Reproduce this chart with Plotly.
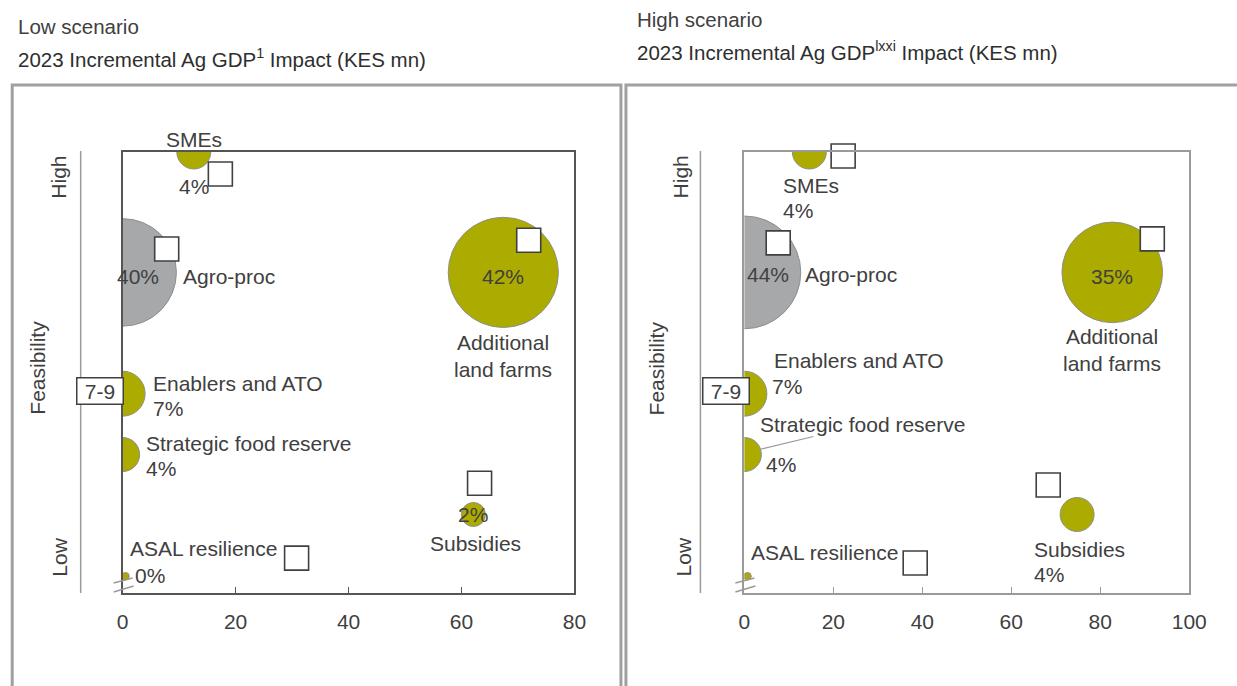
import plotly.graph_objects as go
import math

# ---- data -------------------------------------------------------------
initiatives = ["SMEs", "Agro-proc", "Additional land farms", "Enablers and ATO",
               "Strategic food reserve", "ASAL resilience", "Subsidies"]
feasibility = [10.0, 7.27, 7.27, 4.52, 3.14, 0.38, 1.78]

low_gdp = [12.6, 0.0, 67.4, 0.0, 0.0, 0.5, 62.1]
low_share = [4, 40, 42, 7, 4, 0, 2]
high_gdp = [14.6, 0.0, 82.7, 0.0, 0.0, 0.7, 74.8]
high_share = [4, 44, 35, 7, 4, 0, 4]

# open reference boxes next to each bubble
low_box_gdp = [17.3, 7.8, 71.9, None, -1.6, 30.8, 63.2]
low_box_feas = [9.5, 7.8, 8.0, None, 2.74, 0.79, 2.49]
high_box_gdp = [22.2, 7.6, 91.7, None, -1.8, 38.4, 68.3]
high_box_feas = [9.91, 7.94, 8.03, None, 2.72, 0.68, 2.45]

low_ticks = [0, 20, 40, 60, 80]
high_ticks = [0, 20, 40, 60, 80, 100]
axis_band_label = "7-9"

# ---- styling ----------------------------------------------------------
W, H = 1237, 686
FONT = "Liberation Sans, Arial, sans-serif"
FS = 21
FS_TITLE = 20.5
TXT = "#404040"
TXT_DARK = "#2E2E2E"
OLIVE = "#ABAB00"
GREY_BUBBLE = "#A7A8AA"
FRAME = "#A0A0A0"
colors = [OLIVE, GREY_BUBBLE, OLIVE, OLIVE, OLIVE, OLIVE, OLIVE]

# horizontal page calibration (layout pixel -> displayed pixel)
HX_SCALE, HX_OFF = 0.981, 5.3


def px(x):
    return ((x - HX_OFF) / HX_SCALE) / W


def py(y):
    return 1 - y / H


def bubble_size(share):
    return max(7.5, 17 * math.sqrt(share))


x1_dom = [px(122), px(574)]
x2_dom = [px(744), px(1189)]
y_dom = [py(593), py(152)]

fig = go.Figure()

panels = [
    dict(xa="x", ya="y", gdp=low_gdp, share=low_share, bx=low_box_gdp, by=low_box_feas),
    dict(xa="x2", ya="y2", gdp=high_gdp, share=high_share, bx=high_box_gdp, by=high_box_feas),
]
for p in panels:
    fig.add_trace(go.Scatter(
        x=p["gdp"], y=feasibility, xaxis=p["xa"], yaxis=p["ya"], mode="markers",
        marker=dict(size=[bubble_size(s) for s in p["share"]], color=colors,
                    opacity=1, line=dict(color="#8E8E8E", width=1)),
        text=initiatives, hoverinfo="text", showlegend=False))
    fig.add_trace(go.Scatter(
        x=p["bx"], y=p["by"], xaxis=p["xa"], yaxis=p["ya"], mode="markers",
        marker=dict(symbol="square", size=24, color="white",
                    line=dict(color=TXT, width=1.6)),
        cliponaxis=False, hoverinfo="skip", showlegend=False))

# ---- labels around bubbles -------------------------------------------
# (kind, xshift, yshift, xanchor) per initiative; kind "name" or "pct"
low_labels = {
    "SMEs": [("name", 0, 13, "center"), ("pct", 0, -34, "center")],
    "Agro-proc": [("pct", 15, -4, "center"), ("name", 58, -4, "left")],
    "Additional land farms": [("pct", 0, -4, "center"), ("name", 0, -84, "center")],
    "Enablers and ATO": [("name", 28, 10, "left"), ("pct", 28, -15, "left")],
    "Strategic food reserve": [("name", 21, 11, "left"), ("pct", 21, -14, "left")],
    "ASAL resilience": [("name", 3, 28, "left"), ("pct", 8, 1, "left")],
    "Subsidies": [("pct", 0, 0, "center"), ("name", 2, -29, "center")],
}
high_labels = {
    "SMEs": [("name", -28, -33, "left"), ("pct", -28, -58, "left")],
    "Agro-proc": [("pct", 24, -2, "center"), ("name", 59, -2, "left")],
    "Additional land farms": [("pct", 0, -4, "center"), ("name", 0, -78, "center")],
    "Enablers and ATO": [("name", 28, 33, "left"), ("pct", 26, 7, "left")],
    "Strategic food reserve": [("name", 14, 30, "left"), ("pct", 20, -10, "left")],
    "ASAL resilience": [("name", 1, 24, "left")],
    "Subsidies": [("name", -45, -35, "left"), ("pct", -45, -60, "left")],
}

annotations = []
for p, spec in zip(panels, [low_labels, high_labels]):
    for i, name in enumerate(initiatives):
        for kind, dx, dy, anchor in spec[name]:
            if kind == "name":
                txt = "Additional<br>land farms" if name == "Additional land farms" else name
            else:
                txt = f"{p['share'][i]}%"
            annotations.append(dict(
                x=p["gdp"][i], y=feasibility[i], xref=p["xa"], yref=p["ya"],
                text=txt, showarrow=False, xanchor=anchor, yanchor="middle",
                align="center" if anchor == "center" else "left",
                xshift=dx, yshift=dy, font=dict(size=FS, color=TXT, family=FONT)))

# boxed band label on the value axis, at the "Enablers and ATO" level
ena = initiatives.index("Enablers and ATO")
for xa, ya, shift in [("x", "y", 1), ("x2", "y2", 6)]:
    annotations.append(dict(
        x=0, y=feasibility[ena], xref=xa, yref=ya, text=axis_band_label,
        showarrow=False, xanchor="right", yanchor="middle", xshift=shift, yshift=3,
        width=45, height=25, borderpad=0, bgcolor="white", bordercolor=TXT,
        borderwidth=1.5, font=dict(size=FS, color=TXT, family=FONT)))

# titles
titles = [
    (15, 27, "Low scenario", TXT),
    (15, 58, "2023 Incremental Ag GDP<sup>1</sup> Impact (KES mn)", TXT_DARK),
    (635, 19, "High scenario", TXT),
    (635, 51, "2023 Incremental Ag GDP<sup>lxxi</sup> Impact (KES mn)", TXT_DARK),
]
for x, y, t, c in titles:
    annotations.append(dict(x=px(x), y=py(y), xref="paper", yref="paper", text=t,
                            showarrow=False, xanchor="left", yanchor="middle",
                            font=dict(size=FS_TITLE, color=c, family=FONT)))

# feasibility side scale
for lx, hx, fx in [(57, 58, 36), (680, 683, 656)]:
    for x, y, t in [(lx, 177, "High"), (hx, 557, "Low"), (fx, 368, "Feasibility")]:
        annotations.append(dict(x=px(x), y=py(y), xref="paper", yref="paper", text=t,
                                textangle=-90, showarrow=False, xanchor="center",
                                yanchor="middle",
                                font=dict(size=FS, color=TXT, family=FONT)))

# ---- shapes -------------------------------------------------------------
shapes = []
# panel frames (run past the bottom and right edges of the page)
shapes.append(dict(type="rect", xref="paper", yref="paper", x0=px(11.5), x1=px(620.5),
                   y0=py(85), y1=py(720), line=dict(color=FRAME, width=3),
                   fillcolor="rgba(0,0,0,0)", layer="below"))
shapes.append(dict(type="rect", xref="paper", yref="paper", x0=px(625.5), x1=px(1290),
                   y0=py(85), y1=py(720), line=dict(color=FRAME, width=3),
                   fillcolor="rgba(0,0,0,0)", layer="below"))
# feasibility scale lines
for x in (80, 700):
    shapes.append(dict(type="line", xref="paper", yref="paper", x0=px(x), x1=px(x),
                       y0=py(151), y1=py(593), line=dict(color="#9A9A9A", width=1.5)))
# axis break marks at the origin
for ox in (122, 744):
    for (a, b, c, d) in [(-9, 10, 10, 15), (-9, 1, 11, 7)]:
        shapes.append(dict(type="line", xref="paper", yref="paper",
                           x0=px(ox + a), y0=py(593 - b), x1=px(ox + c), y1=py(593 - d),
                           line=dict(color="#9A9A9A", width=1.5)))
# leader line for "Strategic food reserve" (high scenario)
sfr = initiatives.index("Strategic food reserve")
shapes.append(dict(type="line", xref="x2", yref="y2", xsizemode="pixel",
                   ysizemode="pixel", xanchor=high_gdp[sfr], yanchor=feasibility[sfr],
                   x0=15, y0=5, x1=69, y1=18, line=dict(color="#9A9A9A", width=1.2)))

axis_common = dict(showgrid=False, zeroline=False, showline=True, mirror=True,
                   ticks="inside", ticklen=6,
                   tickfont=dict(size=FS, color=TXT, family=FONT),
                   ticklabelstandoff=9)
yaxis_common = dict(showgrid=False, zeroline=False, showline=True, mirror=True,
                    showticklabels=False, ticks="", range=[0, 10], domain=y_dom)

fig.update_layout(
    width=W, height=H, margin=dict(l=0, r=0, t=0, b=0),
    paper_bgcolor="white", plot_bgcolor="white",
    font=dict(family=FONT, color=TXT),
    xaxis=dict(domain=x1_dom, range=[0, 80], tickvals=low_ticks, anchor="y",
               linecolor="#555555", linewidth=1.5, tickcolor="#555555", **axis_common),
    yaxis=dict(anchor="x", linecolor="#555555", linewidth=1.5, **yaxis_common),
    xaxis2=dict(domain=x2_dom, range=[0, 100], tickvals=high_ticks, anchor="y2",
                linecolor="#9A9A9A", linewidth=2, tickcolor="#9A9A9A", **axis_common),
    yaxis2=dict(anchor="x2", linecolor="#9A9A9A", linewidth=2, **yaxis_common),
    annotations=annotations, shapes=shapes, showlegend=False,
)

fig.write_html("out.html")
